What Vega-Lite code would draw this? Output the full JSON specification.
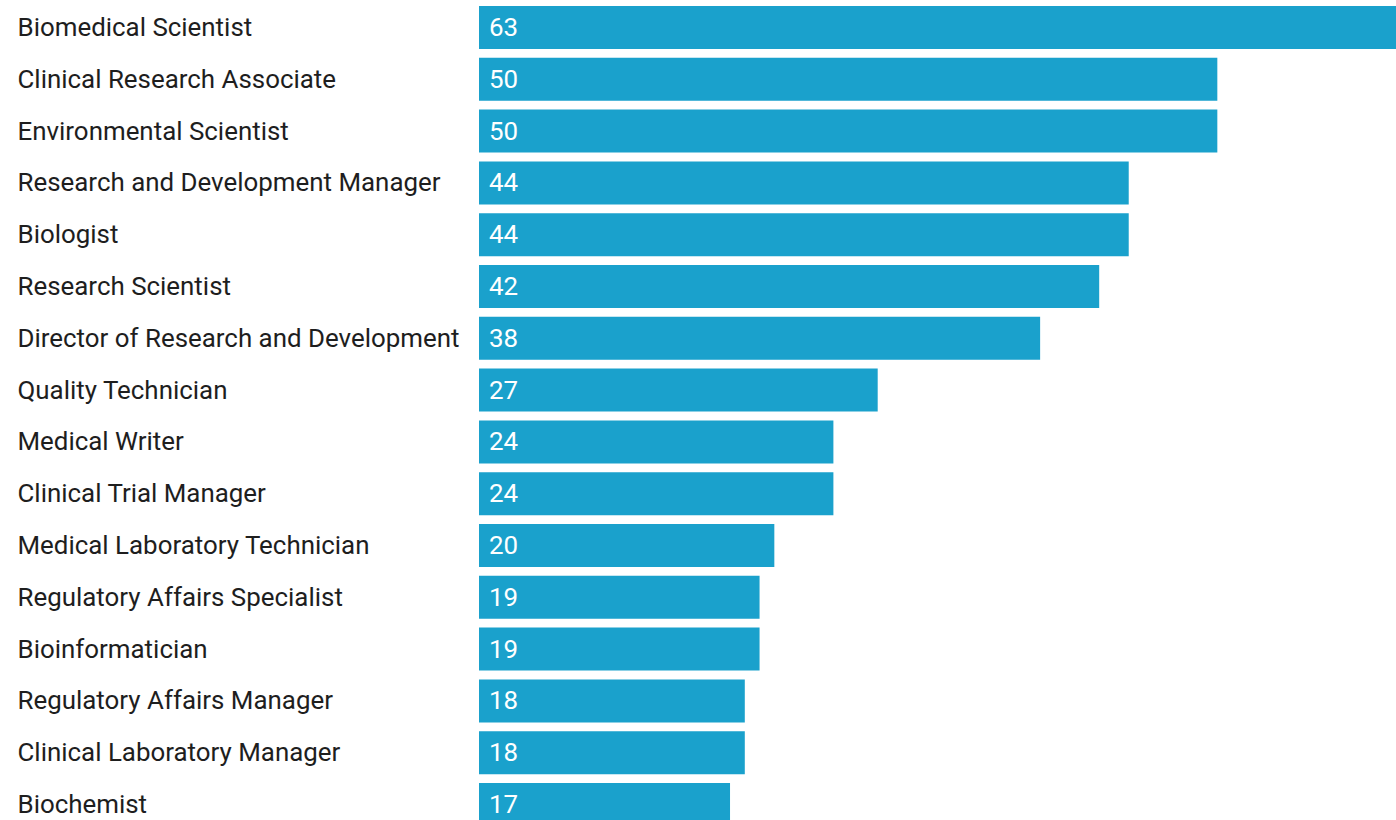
{
  "$schema": "https://vega.github.io/schema/vega-lite/v6.json",
  "autosize": {"type": "none"},
  "width": 917,
  "height": 832,
  "padding": {"left": 479, "top": 0, "right": 0, "bottom": 0},
  "background": "white",
  "config": {"view": {"stroke": null}, "font": "Roboto"},
  "data": {"values": [
    {"job": "Biomedical Scientist", "value": 63},
    {"job": "Clinical Research Associate", "value": 50},
    {"job": "Environmental Scientist", "value": 50},
    {"job": "Research and Development Manager", "value": 44},
    {"job": "Biologist", "value": 44},
    {"job": "Research Scientist", "value": 42},
    {"job": "Director of Research and Development", "value": 38},
    {"job": "Quality Technician", "value": 27},
    {"job": "Medical Writer", "value": 24},
    {"job": "Clinical Trial Manager", "value": 24},
    {"job": "Medical Laboratory Technician", "value": 20},
    {"job": "Regulatory Affairs Specialist", "value": 19},
    {"job": "Bioinformatician", "value": 19},
    {"job": "Regulatory Affairs Manager", "value": 18},
    {"job": "Clinical Laboratory Manager", "value": 18},
    {"job": "Biochemist", "value": 17}
  ]},
  "encoding": {
    "y": {"field": "job", "type": "nominal", "sort": null,
      "scale": {"paddingInner": 0.17, "paddingOuter": 0.116},
      "axis": {"title": null, "ticks": false, "tickSize": 0, "domain": false, "labelAlign": "left", "labelPadding": 462, "labelFontSize": 25.9, "labelColor": "#1e1e1e", "labelFont": "Roboto", "labelLimit": 0, "labelOffset": 0.5}},
    "x": {"field": "value", "type": "quantitative", "scale": {"domain": [0, 62.1], "nice": false}, "axis": null}
  },
  "layer": [
    {"mark": {"type": "bar", "color": "#1aa1cc", "clip": true}},
    {"mark": {"type": "text", "align": "left", "baseline": "middle", "dx": 10, "dy": 0.5, "color": "white", "fontSize": 25.9, "font": "Roboto"},
     "encoding": {"x": {"datum": 0, "type": "quantitative"}, "text": {"field": "value", "type": "quantitative"}}}
  ]
}
